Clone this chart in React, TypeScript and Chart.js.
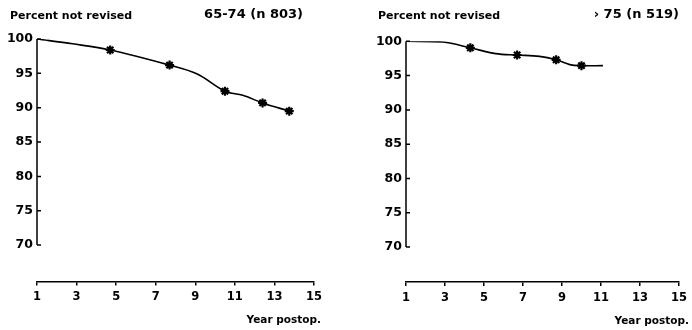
import React, { useEffect, useRef } from "react";
import { Chart, registerables } from "chart.js";

Chart.register(...registerables);

// ---- data ----
const xTicks = [1, 3, 5, 7, 9, 11, 13, 15];
const yTicks = [70, 75, 80, 85, 90, 95, 100];

const leftYears = [1, 2.8, 4.7, 7.7, 9.1, 10.5, 11.4, 12.4, 13.75];
const leftValues = [100, 99.3, 98.4, 96.2, 94.9, 92.4, 91.8, 90.7, 89.5];
const leftStars = [false, false, true, true, false, true, false, true, true];

const rightYears = [1, 2.9, 4.3, 5.6, 6.7, 7.85, 8.7, 9.4, 10.0, 11.1];
const rightValues = [100, 99.9, 99.05, 98.2, 98.0, 97.8, 97.3, 96.6, 96.45, 96.45];
const rightStars = [false, false, true, false, true, false, true, false, true, false];

const leftTitle = "Percent not revised";
const leftGroup = "65-74 (n 803)";
const rightTitle = "Percent not revised";
const rightGroup = "\u203a 75 (n 519)";
const xTitle = "Year postop.";

const FONT = "'DejaVu Sans', sans-serif";

type Panel = {
  years: number[];
  values: number[];
  stars: boolean[];
  title: string;
  group: string;
  left: number;
  top: number;
  bottom: number;
  right: number;
  yMin: number;
  titleX: number;
  groupRight: number;
  xTitleRight: number;
  xTitleY: number;
};

const W = 346;
const H = 330;

function makeChart(canvas: HTMLCanvasElement, p: Panel) {
  const annot = {
    id: "annot",
    afterDraw(chart: any) {
      const ctx = chart.ctx;
      const ys = chart.scales.y;
      const area = chart.chartArea;
      ctx.save();
      ctx.strokeStyle = "#000";
      ctx.lineWidth = 1.5;
      ctx.beginPath();
      const yTop = ys.getPixelForValue(yTicks[yTicks.length - 1]);
      const yBot = ys.getPixelForValue(yTicks[0]);
      ctx.moveTo(area.left, yTop);
      ctx.lineTo(area.left, yBot);
      for (const v of yTicks) {
        const py = ys.getPixelForValue(v);
        ctx.moveTo(area.left, py);
        ctx.lineTo(area.left + 4, py);
      }
      ctx.stroke();

      ctx.fillStyle = "#000";
      ctx.textBaseline = "middle";
      ctx.font = `bold 11px ${FONT}`;
      ctx.textAlign = "left";
      ctx.fillText(p.title, p.titleX, 16);
      ctx.font = `bold 13px ${FONT}`;
      ctx.textAlign = "right";
      ctx.fillText(p.group, p.groupRight, 15);
      ctx.font = `bold 10.5px ${FONT}`;
      ctx.fillText(xTitle, p.xTitleRight, p.xTitleY);
      ctx.restore();
    },
  };

  return new Chart(canvas, {
    type: "scatter",
    data: {
      datasets: [
        {
          data: p.years.map((x, i) => ({ x, y: p.values[i] })),
          showLine: true,
          borderColor: "#000",
          borderWidth: 1.6,
          tension: 0.35,
          pointStyle: "star",
          pointRadius: p.stars.map((s) => (s ? 4.5 : 0)),
          pointBorderWidth: 2.2,
          pointBorderColor: "#000",
          pointBackgroundColor: "#000",
        } as any,
      ],
    },
    options: {
      responsive: false,
      animation: false,
      devicePixelRatio: 1,
      layout: {
        padding: { left: 0, top: p.top, right: W - p.right, bottom: 0 },
      },
      plugins: {
        legend: { display: false },
        tooltip: { enabled: false },
        title: { display: false },
      },
      scales: {
        x: {
          type: "linear",
          min: xTicks[0],
          max: xTicks[xTicks.length - 1],
          afterBuildTicks: (s: any) => {
            s.ticks = xTicks.map((v) => ({ value: v }));
          },
          afterFit: (s: any) => {
            s.height = H - p.bottom;
          },
          grid: {
            display: true,
            drawOnChartArea: false,
            drawTicks: true,
            tickLength: 4,
            color: "#000",
            lineWidth: 1.5,
          },
          border: { display: true, color: "#000", width: 1.5 },
          ticks: {
            color: "#000",
            font: { family: FONT, weight: "bold", size: 11.5 },
            padding: 5,
            maxRotation: 0,
            autoSkip: false,
          },
        },
        y: {
          type: "linear",
          min: p.yMin,
          max: yTicks[yTicks.length - 1],
          afterBuildTicks: (s: any) => {
            s.ticks = yTicks.map((v) => ({ value: v }));
          },
          afterFit: (s: any) => {
            s.width = p.left;
          },
          grid: { display: false, drawTicks: false },
          border: { display: false },
          ticks: {
            color: "#000",
            font: { family: FONT, weight: "bold", size: 12.5 },
            padding: 4,
          },
        },
      },
    } as any,
    plugins: [annot],
  });
}

const leftPanel: Panel = {
  years: leftYears,
  values: leftValues,
  stars: leftStars,
  title: leftTitle,
  group: leftGroup,
  left: 37,
  top: 39,
  bottom: 281.5,
  right: 314,
  yMin: 64.7,
  titleX: 10,
  groupRight: 303,
  xTitleRight: 321,
  xTitleY: 320,
};

const rightPanel: Panel = {
  years: rightYears,
  values: rightValues,
  stars: rightStars,
  title: rightTitle,
  group: rightGroup,
  left: 60,
  top: 41.3,
  bottom: 282,
  right: 334,
  yMin: 64.9,
  titleX: 32,
  groupRight: 333,
  xTitleRight: 343,
  xTitleY: 321,
};

function PanelChart({ panel, x }: { panel: Panel; x: number }) {
  const ref = useRef<HTMLCanvasElement | null>(null);
  useEffect(() => {
    if (!ref.current) return;
    const c = makeChart(ref.current, panel);
    return () => c.destroy();
  }, [panel]);
  return (
    <canvas
      ref={ref}
      width={W}
      height={H}
      style={{ position: "absolute", left: x, top: 0, width: W, height: H }}
    />
  );
}

export default function App() {
  return (
    <div
      style={{
        position: "absolute",
        left: 0,
        top: 0,
        width: 692,
        height: 330,
        background: "#fff",
      }}
    >
      <PanelChart panel={leftPanel} x={0} />
      <PanelChart panel={rightPanel} x={346} />
    </div>
  );
}
